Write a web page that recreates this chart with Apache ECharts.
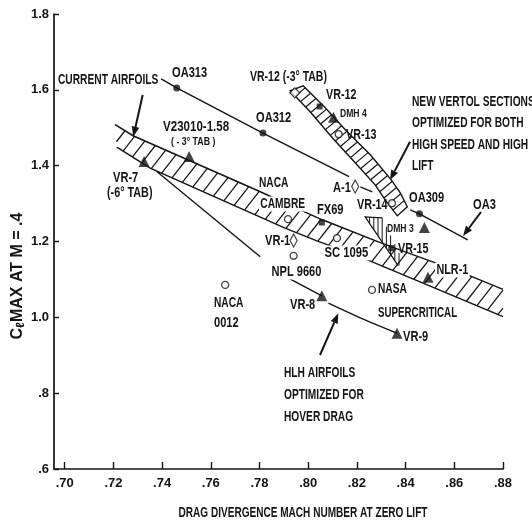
<!DOCTYPE html>
<html>
<head>
<meta charset="utf-8">
<script src="https://cdn.jsdelivr.net/npm/echarts@6/dist/echarts.min.js"></script>
<style>
  html, body { margin: 0; padding: 0; background: #fff; }
  #chart { width: 532px; height: 527px; }
</style>
</head>
<body>
<div id="chart"></div>
<script>
// ---- axis ticks ----
const xTicks = [0.70, 0.72, 0.74, 0.76, 0.78, 0.80, 0.82, 0.84, 0.86, 0.88];
const yTicks = [0.6, 0.8, 1.0, 1.2, 1.4, 1.6, 1.8];

// ---- airfoil points: [name, drag divergence Mach, Cl max] ----
const filledCircles = [['OA313', 0.746, 1.605], ['OA312', 0.7814, 1.486], ['OA309', 0.8457, 1.273]];
const filledTriangles = [
  ['VR-7', 0.7326, 1.411], ['V23010-1.58', 0.7511, 1.424], ['DMH 4', 0.8104, 1.528],
  ['VR-8', 0.8056, 1.0566], ['VR-9', 0.8365, 0.958], ['NLR-1', 0.8492, 1.106], ['DMH 3', 0.8477, 1.2368]
];
const filledSquares = [['FX69', 0.8056, 1.250], ['VR-12', 0.8047, 1.556], ['VR-15', 0.8341, 1.1825]];
const openCircles = [
  ['NACA CAMBRE', 0.7917, 1.259], ['NPL 9660', 0.794, 1.1622], ['SC 1095', 0.8118, 1.2089],
  ['NACA 0012', 0.7659, 1.0856], ['NASA SUPERCRITICAL', 0.8262, 1.0724],
  ['VR-13', 0.8125, 1.483], ['VR-14', 0.8344, 1.301]
];
const openDiamonds = [['A-1', 0.8193, 1.345], ['VR-1', 0.794, 1.2025]];
const tabSquare = [['VR-12 (-3° TAB)', 0.7945, 1.592]];

// ---- OA3 family line (broken where it crosses the Vertol band) ----
const oaLineA = [[0.7396, 1.629], [0.746, 1.605], [0.7814, 1.486], [0.8168, 1.371]];
const oaLineB = [[0.8214, 1.344], [0.8263, 1.331]];
const oaLineC = [[0.8419, 1.2835], [0.8457, 1.273], [0.8655, 1.204]];

// ---- HLH hover-drag airfoil trend ----
const hlhA = [[0.7378, 1.3846], [0.7803, 1.160]];
const hlhB = [[0.7919, 1.1033], [0.8056, 1.0566]];
const hlhC = [[0.8083, 1.0373], [0.8214, 0.9985], [0.8365, 0.958]];

// ---- current airfoils band ----
const currentUpper = [
  [0.7207, 1.508], [0.7281, 1.479], [0.7794, 1.3337], [0.7967, 1.2835], [0.8058, 1.2572],
  [0.8288, 1.1991], [0.8432, 1.1648], [0.8625, 1.1199], [0.880, 1.0738]
];
const currentLower = [
  [0.7214, 1.449], [0.7351, 1.3936], [0.7905, 1.2353], [0.8036, 1.2017], [0.8214, 1.1595], [0.880, 1.002]
];

// ---- new Vertol sections band ----
const vertolRight = [
  [0.7979, 1.6108], [0.8070, 1.5527], [0.8156, 1.4920], [0.8255, 1.4287],
  [0.8341, 1.3627], [0.8378, 1.3284], [0.8407, 1.2915]
];
const vertolLeft = [
  [0.7926, 1.5976], [0.8008, 1.5422], [0.8099, 1.4736], [0.8193, 1.4076],
  [0.8275, 1.3495], [0.8316, 1.3099], [0.8366, 1.2677]
];

// ---- small vertical-hatched patch near VR-15 ----
const patchTop = [[0.8234, 1.2651], [0.8304, 1.2624]];
const patchBottom = [[0.8390, 1.1463], [0.8370, 1.1358]];

const FONT = '"Liberation Sans", Arial, sans-serif';
const INK = '#141414';

// parallel hatch segments clipped to a polygon (pixel space)
function hatch(poly, angleDeg, spacing, phase) {
  const a = angleDeg * Math.PI / 180;
  const d = [Math.cos(a), -Math.sin(a)];
  const n = [-d[1], d[0]];
  const proj = poly.map(p => p[0] * n[0] + p[1] * n[1]);
  const lo = Math.min.apply(null, proj), hi = Math.max.apply(null, proj);
  const segs = [];
  for (let c = Math.floor(lo / spacing) * spacing + (phase || 0); c < hi; c += spacing) {
    const pts = [];
    for (let i = 0; i < poly.length; i++) {
      const j = (i + 1) % poly.length;
      const fa = proj[i] - c, fb = proj[j] - c;
      if ((fa < 0) !== (fb < 0)) {
        const t = fa / (fa - fb);
        pts.push([poly[i][0] + t * (poly[j][0] - poly[i][0]), poly[i][1] + t * (poly[j][1] - poly[i][1])]);
      }
    }
    pts.sort((p, q) => (p[0] * d[0] + p[1] * d[1]) - (q[0] * d[0] + q[1] * d[1]));
    for (let k = 0; k + 1 < pts.length; k += 2) segs.push([pts[k], pts[k + 1]]);
  }
  return segs;
}

function lineEl(s, w) {
  return { type: 'line', shape: { x1: s[0][0], y1: s[0][1], x2: s[1][0], y2: s[1][1] },
           style: { stroke: INK, lineWidth: w || 1.2 } };
}
function polyEl(points, w, smooth) {
  return { type: 'polyline', shape: { points: points, smooth: smooth || 0 },
           style: { stroke: INK, lineWidth: w || 1.5, fill: null } };
}

function renderDrawing(params, api) {
  const P = arr => arr.map(p => api.coord(p));
  const kids = [];

  // current airfoils band
  const up = P(currentUpper), lo = P(currentLower);
  hatch(up.concat(lo.slice().reverse()), 52, 11, 3).forEach(s => kids.push(lineEl(s, 1.25)));
  kids.push(polyEl(up, 1.5), polyEl(lo, 1.5));

  // new Vertol band (closed outline)
  const vr = P(vertolRight), vl = P(vertolLeft);
  const vPoly = vr.concat(vl.slice().reverse());
  hatch(vPoly, 40, 7.5, 1).forEach(s => kids.push(lineEl(s, 1.2)));
  kids.push({ type: 'polygon', shape: { points: vPoly }, style: { stroke: INK, lineWidth: 1.4, fill: null } });

  // vertical-hatched patch
  const pt = P(patchTop), pb = P(patchBottom);
  const pPoly = pt.concat(pb);
  hatch(pPoly, 90, 4.2, 0).forEach(s => kids.push(lineEl(s, 1.0)));
  kids.push(polyEl([pPoly[3], pPoly[0], pPoly[1]], 1.2));

  // OA3 line and HLH trend
  [oaLineA, oaLineB, oaLineC].forEach(l => kids.push(polyEl(P(l), 1.4)));
  [hlhA, hlhB, hlhC].forEach(l => kids.push(polyEl(P(l), 1.4, 0.3)));

  return { type: 'group', children: kids };
}

// annotation texts: [text, left x, centre y, font size, horizontal squeeze, white backing]
const notes = [
  ['CURRENT AIRFOILS', 58, 80], ['OA313', 172, 73, 15, 0.74], ['OA312', 256, 118, 15, 0.74],
  ['V23010-1.58', 163, 127, 15, 0.77], ['( - 3° TAB )', 171, 142, 11, 0.8],
  ['VR-7', 113, 178, 15, 0.74], ['(-6° TAB)', 107, 193, 15, 0.72],
  ['NACA', 259, 183], ['CAMBRE', 259, 204, 15, 0.68, true], ['FX69', 317, 210, 15, 0.74],
  ['VR-1', 265, 241, 15, 0.74], ['SC 1095', 323, 253, 15, 0.75, true], ['NPL 9660', 270, 272, 15, 0.74, true],
  ['NACA', 214, 303], ['0012', 214, 323, 15, 0.74], ['VR-8', 290, 305, 15, 0.74],
  ['NASA', 378, 289], ['SUPERCRITICAL', 378, 313, 15, 0.65], ['VR-9', 403, 337, 15, 0.74],
  ['NLR-1', 435, 270, 15, 0.72, true], ['VR-15', 398, 249, 15, 0.72], ['DMH 3', 387, 229, 11, 0.78],
  ['VR-14', 357, 205, 15, 0.72], ['OA309', 409, 198, 15, 0.74], ['OA3', 473, 205, 15, 0.74],
  ['A-1', 333, 188, 15, 0.74], ['VR-13', 346, 135, 15, 0.72], ['DMH 4', 340, 114, 11, 0.78],
  ['VR-12', 326, 95, 15, 0.72], ['VR-12 (-3° TAB)', 250, 77, 15, 0.7],
  ['NEW VERTOL SECTIONS', 412, 102], ['OPTIMIZED FOR BOTH', 412, 123],
  ['HIGH SPEED AND HIGH', 412, 145], ['LIFT', 412, 166],
  ['HLH AIRFOILS', 284, 373], ['OPTIMIZED FOR', 284, 395], ['HOVER DRAG', 284, 417]
];

// annotation arrows: tail x, tail y, tip x, tip y
const pointers = [
  [142.7, 95, 133.3, 136.7], [410, 141.7, 390, 180], [481, 212, 463, 236], [320, 355, 338.3, 313.3]
];

function textEl(n) {
  const fs = n[3] || 15;
  const el = {
    type: 'text', x: n[1], y: n[2], scaleX: n[4] || 0.68, z: 100,
    style: { text: n[0], x: 0, y: 0, font: 'bold ' + fs + 'px ' + FONT, fill: INK,
             textAlign: 'left', textVerticalAlign: 'middle' }
  };
  if (n[5]) { el.style.backgroundColor = '#fff'; el.style.padding = [0, 2]; }
  return el;
}
function arrowEls(a) {
  const dx = a[2] - a[0], dy = a[3] - a[1], L = Math.hypot(dx, dy);
  const ux = dx / L, uy = dy / L, nx = -uy, ny = ux;
  const bx = a[2] - ux * 10, by = a[3] - uy * 10;
  return [
    { type: 'line', z: 100, shape: { x1: a[0], y1: a[1], x2: bx, y2: by }, style: { stroke: INK, lineWidth: 2 } },
    { type: 'polygon', z: 100, shape: { points: [[a[2], a[3]], [bx + nx * 3.8, by + ny * 3.8], [bx - nx * 3.8, by - ny * 3.8]] },
      style: { fill: INK } }
  ];
}

const graphics = notes.map(textEl);
pointers.forEach(a => arrowEls(a).forEach(e => graphics.push(e)));
graphics.push({
  type: 'text', x: 303, y: 513, scaleX: 0.67, z: 100,
  style: { text: 'DRAG DIVERGENCE MACH NUMBER AT ZERO LIFT', x: 0, y: 0, font: 'bold 15px ' + FONT,
           fill: INK, textAlign: 'center', textVerticalAlign: 'middle' }
});
graphics.push({
  type: 'text', x: 18, y: 276, rotation: Math.PI / 2, z: 100,
  style: { text: '{c|C}{s|ℓ}{c|MAX AT M = .4}', x: 0, y: 0, fill: INK,
           textAlign: 'center', textVerticalAlign: 'middle',
           rich: { c: { font: 'bold 16px ' + FONT, fill: INK }, s: { font: 'bold 12px ' + FONT, fill: INK, padding: [5, 0, 0, 0] } } }
});

const pts = arr => arr.map(d => ({ name: d[0], value: [d[1], d[2]] }));
const markerBase = { type: 'scatter', z: 5, silent: true };

const chart = echarts.init(document.getElementById('chart'), null, { renderer: 'canvas' });
chart.setOption({
  backgroundColor: '#fff',
  animation: false,
  grid: { left: 54, right: 29, top: 14, bottom: 58, containLabel: false, outerBoundsMode: 'none' },
  xAxis: {
    type: 'value', min: 0.6956, max: 0.88,
    axisLine: { show: true, lineStyle: { color: INK, width: 1.7 } },
    axisTick: { show: true, inside: true, length: 7, customValues: xTicks, lineStyle: { color: INK, width: 1.4 } },
    axisLabel: { customValues: xTicks, formatter: v => v.toFixed(2).replace(/^0/, ''), fontSize: 13,
                 fontWeight: 'bold', fontFamily: FONT, color: INK, margin: 8 },
    splitLine: { show: false }
  },
  yAxis: {
    type: 'value', min: 0.6, max: 1.8, interval: 0.2,
    axisLine: { show: true, lineStyle: { color: INK, width: 1.7 } },
    axisTick: { show: true, inside: true, length: 5, lineStyle: { color: INK, width: 1.4 } },
    axisLabel: { formatter: v => (v >= 0.999 ? v.toFixed(1) : v.toFixed(1).replace(/^0/, '')), fontSize: 13,
                 fontWeight: 'bold', fontFamily: FONT, color: INK, margin: 5 },
    splitLine: { show: false }
  },
  graphic: { elements: graphics },
  series: [
    { type: 'custom', coordinateSystem: 'cartesian2d', data: [[0.8, 1.2]], silent: true, z: 2,
      renderItem: renderDrawing },
    Object.assign({}, markerBase, { data: pts(filledCircles), symbol: 'circle', symbolSize: 7,
      itemStyle: { color: INK } }),
    Object.assign({}, markerBase, { data: pts(filledTriangles), symbol: 'triangle', symbolSize: 11,
      itemStyle: { color: INK } }),
    Object.assign({}, markerBase, { data: pts(filledSquares), symbol: 'rect', symbolSize: 6,
      itemStyle: { color: INK } }),
    Object.assign({}, markerBase, { data: pts(openCircles), symbol: 'circle', symbolSize: 7,
      itemStyle: { color: '#fff', borderColor: INK, borderWidth: 1.3 } }),
    Object.assign({}, markerBase, { data: pts(openDiamonds), symbol: 'diamond', symbolSize: [7, 13],
      itemStyle: { color: '#fff', borderColor: INK, borderWidth: 1.3 } }),
    Object.assign({}, markerBase, { data: pts(tabSquare), symbol: 'rect', symbolSize: 7, symbolRotate: 45,
      itemStyle: { color: '#fff', borderColor: INK, borderWidth: 1.3 } })
  ]
});
</script>
</body>
</html>
